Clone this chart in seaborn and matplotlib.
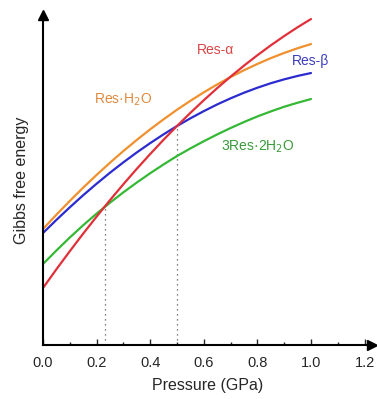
import numpy as np
import pandas as pd
import matplotlib
matplotlib.use("Agg")
import matplotlib.pyplot as plt
import seaborn as sns

# Pressure grid (GPa) and Gibbs free energy (arbitrary units) of each phase
pressure = [0.0, 0.05, 0.1, 0.15, 0.2, 0.25, 0.3, 0.35, 0.4, 0.45, 0.5,
            0.55, 0.6, 0.65, 0.7, 0.75, 0.8, 0.85, 0.9, 0.95, 1.0]
g_res_alpha = [0.570, 0.757, 0.938, 1.114, 1.284, 1.449, 1.608, 1.762, 1.910, 2.053, 2.190,
               2.322, 2.448, 2.569, 2.684, 2.794, 2.898, 2.997, 3.090, 3.178, 3.260]
g_res_h2o = [1.160, 1.303, 1.441, 1.574, 1.701, 1.823, 1.940, 2.051, 2.157, 2.257, 2.353,
             2.442, 2.527, 2.606, 2.680, 2.748, 2.811, 2.869, 2.921, 2.968, 3.010]
g_res_beta = [1.120, 1.251, 1.377, 1.498, 1.613, 1.723, 1.827, 1.926, 2.019, 2.107, 2.190,
              2.267, 2.339, 2.406, 2.467, 2.523, 2.573, 2.618, 2.657, 2.691, 2.720]
g_3res_2h2o = [0.810, 0.945, 1.075, 1.198, 1.314, 1.423, 1.527, 1.625, 1.718, 1.806, 1.890,
               1.966, 2.038, 2.106, 2.170, 2.230, 2.286, 2.336, 2.383, 2.423, 2.460]

# Transition pressures and the energies where the curves cross
transition_p = [0.23, 0.5]
transition_g = [1.38, 2.19]

xticks = [0.0, 0.2, 0.4, 0.6, 0.8, 1.0, 1.2]

phases = ["Res-α", "Res·H2O", "Res-β", "3Res·2H2O"]
colors = {"Res-α": "#e0303a", "Res·H2O": "#f0902e",
          "Res-β": "#2b2bd0", "3Res·2H2O": "#35b835"}

df = pd.concat([
    pd.DataFrame({"Pressure": pressure, "G": g, "phase": name})
    for name, g in zip(phases, [g_res_alpha, g_res_h2o, g_res_beta, g_3res_2h2o])
])

sns.set_style("white")
plt.rcParams["font.family"] = ["Liberation Sans", "DejaVu Sans"]

fig = plt.figure(figsize=(3.77, 3.99), dpi=100)
ax = fig.add_axes([0.114, 0.1353, 0.873, 0.827])

sns.lineplot(data=df, x="Pressure", y="G", hue="phase", palette=colors,
             hue_order=["3Res·2H2O", "Res-β", "Res·H2O", "Res-α"],
             linewidth=1.6, legend=False, ax=ax, sort=True)

for p, g in zip(transition_p, transition_g):
    ax.plot([p, p], [0, g], color="#555555", linestyle=(0, (1, 3)), linewidth=0.9, zorder=1)

ax.set_xlim(0, 1.228)
ax.set_ylim(0, 3.3)

for s in ["top", "right"]:
    ax.spines[s].set_visible(False)
for s in ["left", "bottom"]:
    ax.spines[s].set_color("black")
    ax.spines[s].set_linewidth(1.5)

# Arrow heads on the axes
ax.plot(1, 0, ">", color="black", markersize=7, transform=ax.transAxes, clip_on=False)
ax.plot(0, 1, "^", color="black", markersize=7, transform=ax.transAxes, clip_on=False)

ax.set_xticks(xticks)
ax.set_xticklabels([f"{t:.1f}" for t in xticks], fontsize=10.5)
ax.set_xticks(np.arange(0.1, 1.2, 0.2), minor=True)
ax.tick_params(axis="x", which="major", direction="in", length=4, width=1, bottom=True, pad=8)
ax.tick_params(axis="x", which="minor", direction="in", length=2.5, width=1, bottom=True)
ax.set_yticks([])

ax.set_xlabel("Pressure (GPa)", fontsize=11.5, labelpad=6)
ax.set_ylabel("Gibbs free energy", fontsize=11.5, labelpad=10)

ax.text(0.645, 2.95, "Res-α", color="#d84545", fontsize=10, ha="center", va="center")
ax.text(1.0, 2.84, "Res-β", color="#3a3ac0", fontsize=10, ha="center", va="center")
ax.text(0.30, 2.45, "Res·H$_2$O", color="#e08a40", fontsize=10, ha="center", va="center")
ax.text(0.80, 1.98, "3Res·2H$_2$O", color="#3a9a3a", fontsize=10, ha="center", va="center")

fig.savefig("out.png", dpi=100)
